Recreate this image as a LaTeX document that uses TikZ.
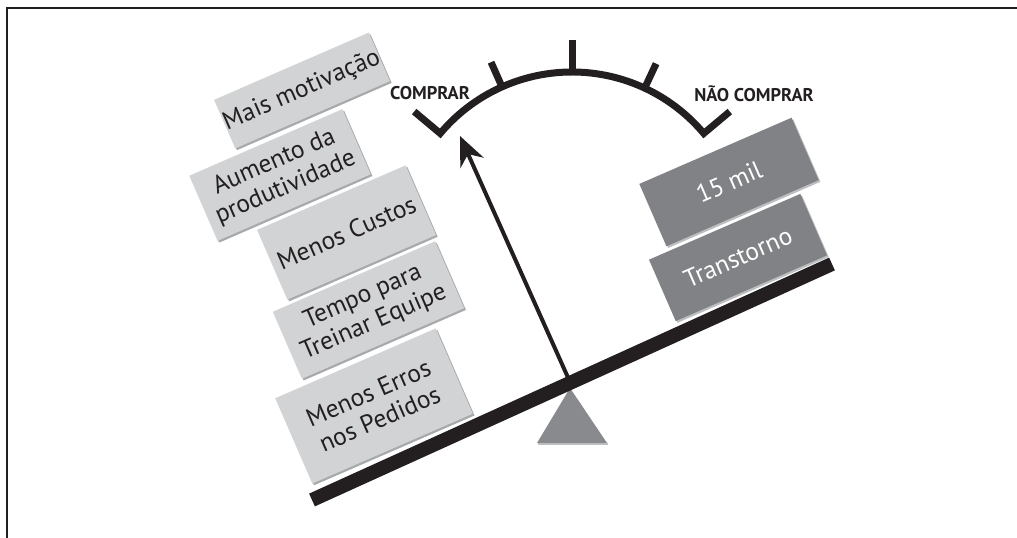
\documentclass[tikz,border=0pt]{standalone}
\usepackage{fontspec}
\setmainfont{PT Sans}
\usetikzlibrary{shadows,arrows.meta,calc}
\definecolor{ink}{HTML}{231F20}
\definecolor{lightbox}{HTML}{D1D3D4}
\definecolor{lightshadow}{HTML}{A7A9AC}
\definecolor{darkbox}{HTML}{808285}
\definecolor{darkshadow}{HTML}{BCBEC0}
\definecolor{pivotgray}{HTML}{898A8D}
\begin{document}
\begin{tikzpicture}[x=0.75pt,y=0.75pt,
  sz/.style 2 args={minimum width=#1*0.75pt, minimum height=#2*0.75pt},
  pro/.style={fill=lightbox, text=ink, rotate=23.5, inner sep=0pt, align=center,
    font=\fontsize{19}{21}\selectfont,
    drop shadow={shadow xshift=1.3pt, shadow yshift=-1.3pt, fill=lightshadow, opacity=1}},
  con/.style={fill=darkbox, text=white, rotate=23.5, inner sep=0pt, align=center,
    font=\fontsize{19}{21}\selectfont,
    drop shadow={shadow xshift=1.3pt, shadow yshift=-1.3pt, fill=darkshadow, opacity=1}},
  lbl/.style={font=\bfseries\fontsize{13.8}{15}\selectfont, text=ink, inner sep=0pt},
  scaleline/.style={ink, line width=5.25pt, miter limit=10, line join=miter},
]
\useasboundingbox (0,0) rectangle (1017,538);
% frame
\coordinate (f1) at (7,0);
\coordinate (f2) at (7,530);
\coordinate (f3) at (1017,530);
\draw[ink, line width=1.1pt] (f1) -- (f2) -- (f3);

% boxes on the left
\node[pro, sz={164}{53}] (b1) at (302,447.5) {Mais motivação};
\node[pro, sz={167}{71}] (b2) at (280,363) {Aumento da\\produtividade};
\node[pro, sz={162}{76}] (b3) at (346.5,305.5) {Menos Custos};
\node[pro, sz={177}{73}] (b4) at (368.5,228) {Tempo para\\Treinar Equipe};
\node[pro, sz={175}{93}] (b5) at (374,132) {Menos Erros\\nos Pedidos};

% boxes on the right
\node[con, sz={166}{68}] (r1) at (729,356) {15 mil};
\node[con, sz={165}{67}] (r2) at (738,280.5) {Transtorno};

% scale
\coordinate (c) at (572,294);
\draw[scaleline] ($(c)+(140:206)$) -- ($(c)+(140:172)$) arc[start angle=140, end angle=40, radius=172] -- ($(c)+(40:206)$);
\draw[scaleline] ($(c)+(114:172)$) -- ($(c)+(114:199)$);
\draw[scaleline] ($(c)+(90:172)$) -- ($(c)+(90:204)$);
\draw[scaleline] ($(c)+(65:172)$) -- ($(c)+(65:199)$);
\node[lbl] (comprar) at (430,445) {COMPRAR};
\node[lbl] (nao) at (754,444) {NÃO COMPRAR};

% needle
\coordinate (needlebase) at (570,156);
\coordinate (tip) at (460,402);
\draw[ink, line width=3pt, -{Stealth[length=22pt, width=19pt]}] (needlebase) -- (tip);

% pivot
\coordinate (apex) at (570,150);
\coordinate (pl) at (537,95);
\coordinate (pr) at (607,95);
\fill[darkshadow] ($(pl)+(1,-2)$) -- ($(pr)+(1,-2)$) -- ($(pr)+(1,0)$) -- ($(pl)+(1,0)$) -- cycle;
\fill[pivotgray] (apex) -- (pl) -- (pr) -- cycle;

% beam
\coordinate (bl) at (312,38);
\coordinate (br) at (832,274);
\draw[ink, line width=10.5pt] (bl) -- (br);
\end{tikzpicture}
\end{document}
